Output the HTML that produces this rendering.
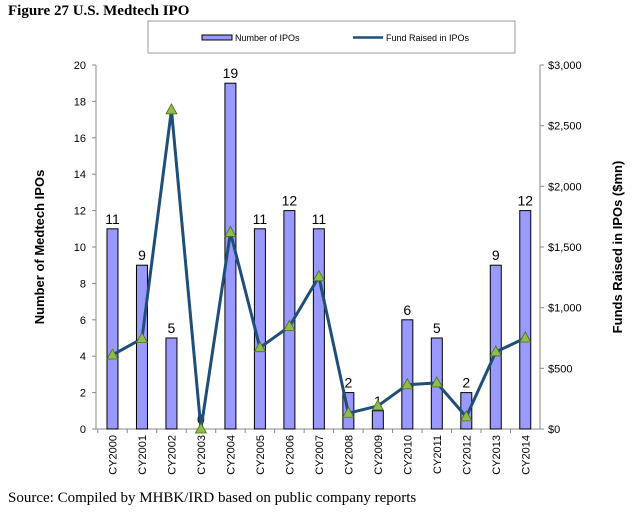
<!DOCTYPE html>
<html><head><meta charset="utf-8"><style>
body{margin:0;background:#fff;width:640px;height:515px;overflow:hidden}
svg text{font-family:"Liberation Sans",sans-serif}
</style></head><body>
<svg id="c" width="640" height="515" xmlns="http://www.w3.org/2000/svg">
<text x="8" y="15" font-family="Liberation Serif" font-weight="bold" font-size="15" style="font-family:'Liberation Serif',serif">Figure 27 U.S. Medtech IPO</text>
<g>
<rect x="148" y="21" width="367" height="32" fill="#fff" stroke="#999"/>
<rect x="202" y="35" width="30" height="5" fill="#9999ff" stroke="#000" stroke-width="1"/>
<text x="235" y="41" font-size="9">Number of IPOs</text>
<line x1="353" y1="37.5" x2="383" y2="37.5" stroke="#1f4e79" stroke-width="2.5"/>
<text x="386" y="41" font-size="9">Fund Raised in IPOs</text>
</g>
<g id="plot"></g>
<text x="0" y="0" transform="translate(44,247) rotate(-90)" text-anchor="middle" font-size="13" font-weight="bold">Number of Medtech IPOs</text>
<text x="0" y="0" transform="translate(622,247) rotate(-90)" text-anchor="middle" font-size="13" font-weight="bold">Funds Raised in IPOs ($mn)</text>
<text x="8" y="502" font-size="15" style="font-family:'Liberation Serif',serif">Source: Compiled by MHBK/IRD based on public company reports</text>
</svg>
<script>
const categories=["CY2000","CY2001","CY2002","CY2003","CY2004","CY2005","CY2006","CY2007","CY2008","CY2009","CY2010","CY2011","CY2012","CY2013","CY2014"];
const ipoCounts=[11,9,5,0,19,11,12,11,2,1,6,5,2,9,12];
const fundsRaised=[610,745,2630,0,1620,670,845,1255,130,190,365,380,100,635,750];
const leftTicks=[0,2,4,6,8,10,12,14,16,18,20];
const rightTicks=[0,500,1000,1500,2000,2500,3000];
const rightTickLabels=["$0","$500","$1,000","$1,500","$2,000","$2,500","$3,000"];
const X0=97.75,X1=540,Y0=429,Y1=65;
const band=(X1-X0)/categories.length;
const xc=i=>X0+band*(i+0.5);
const yL=v=>Y0-(v/20)*(Y0-Y1);
const yR=v=>Y0-(v/3000)*(Y0-Y1);
const g=document.getElementById('plot');
const NS="http://www.w3.org/2000/svg";
function mk(t,a,txt){const e=document.createElementNS(NS,t);for(const k in a)e.setAttribute(k,a[k]);if(txt!==undefined)e.textContent=txt;g.appendChild(e);return e;}
// axes
let e=mk('line',{x1:96,y1:Y1,x2:96,y2:Y0,stroke:'#888'});


e=mk('line',{x1:X1,y1:Y1,x2:X1,y2:Y0,stroke:'#888'});


e=mk('line',{x1:96,y1:Y0,x2:X1,y2:Y0,stroke:'#888'});


leftTicks.forEach(v=>{mk('line',{x1:92,y1:yL(v),x2:96,y2:yL(v),stroke:'#888'});
e=mk('text',{x:86,y:yL(v)+4,'text-anchor':'end','font-size':11},String(v));

});
rightTicks.forEach((v,i)=>{mk('line',{x1:X1,y1:yR(v),x2:X1+4,y2:yR(v),stroke:'#888'});
e=mk('text',{x:X1+8,y:yR(v)+4,'font-size':11},rightTickLabels[i]);

});
categories.forEach((c,i)=>{mk('line',{x1:X0+band*i,y1:Y0,x2:X0+band*i,y2:Y0+4,stroke:'#888'});
e=mk('text',{x:0,y:0,transform:`translate(${xc(i)+4},${Y0+6}) rotate(-90)`,'text-anchor':'end','font-size':11},c);

});
ipoCounts.forEach((v,i)=>{
 e=mk('rect',{x:xc(i)-5.5,y:yL(v),width:11,height:Y0-yL(v),fill:'#9999ff',stroke:'#000','stroke-width':1});
 
 
 e=mk('text',{x:xc(i),y:yL(v)-5,'text-anchor':'middle','font-size':14},String(v));
 
 
});
e=mk('polyline',{points:fundsRaised.map((v,i)=>xc(i)+','+yR(v)).join(' '),fill:'none',stroke:'#1f4e79','stroke-width':3,'stroke-linejoin':'round'});


fundsRaised.forEach((v,i)=>{const x=xc(i),y=yR(v);
 e=mk('polygon',{points:`${x},${y-6} ${x-5.5},${y+4} ${x+5.5},${y+4}`,fill:'#8fbc4a',stroke:'#4a6b1f','stroke-width':0.8});
 
 });
</script>
</body></html>
